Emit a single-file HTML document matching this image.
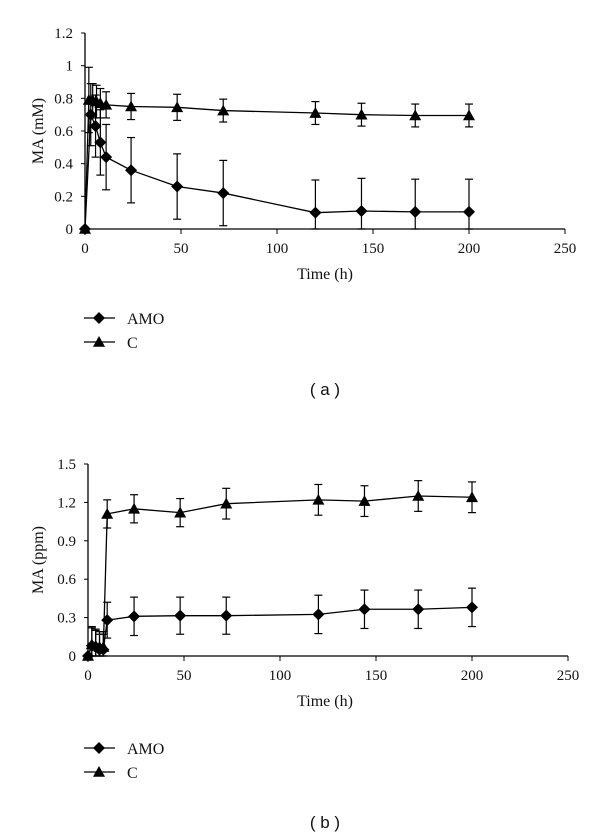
<!DOCTYPE html>
<html><head><meta charset="utf-8">
<style>
html,body{margin:0;padding:0;background:#fff;}
svg{display:block;}
text{font-family:"Liberation Serif",serif;fill:#111;}
.cap{font-family:"Liberation Sans",sans-serif;}
</style></head>
<body>
<svg id="fig" width="600" height="837" viewBox="0 0 600 837" xmlns="http://www.w3.org/2000/svg"></svg>
<script>
// Panel (a)
const timesA = [0, 3, 5.5, 8, 11, 24, 48, 72, 120, 144, 172, 200];
const amoA = [0, 0.70, 0.63, 0.53, 0.44, 0.36, 0.26, 0.22, 0.10, 0.11, 0.105, 0.105];
const amoErrA = [0, 0.19, 0.19, 0.2, 0.2, 0.2, 0.2, 0.2, 0.2, 0.2, 0.2, 0.2];
const timesCA = [0, 2, 4, 6, 8, 11, 24, 48, 72, 120, 144, 172, 200];
const cA = [0, 0.79, 0.79, 0.78, 0.77, 0.76, 0.75, 0.745, 0.725, 0.71, 0.70, 0.695, 0.695];
const cErrA = [0, 0.2, 0.1, 0.1, 0.09, 0.08, 0.08, 0.08, 0.07, 0.07, 0.07, 0.07, 0.07];
const yTicksA = ["0","0.2","0.4","0.6","0.8","1","1.2"];
const yValsA = [0,0.2,0.4,0.6,0.8,1,1.2];
// Panel (b)
const timesB = [0, 2, 4, 6, 8, 10, 24, 48, 72, 120, 144, 172, 200];
const amoB = [0, 0.08, 0.07, 0.05, 0.05, 0.28, 0.31, 0.315, 0.315, 0.325, 0.365, 0.365, 0.38];
const amoErrB = [0, 0.14, 0.13, 0.12, 0.12, 0.14, 0.15, 0.145, 0.145, 0.15, 0.15, 0.15, 0.15];
const cB = [0, 0.09, 0.08, 0.07, 0.07, 1.11, 1.15, 1.12, 1.19, 1.22, 1.21, 1.25, 1.24];
const cErrB = [0, 0.14, 0.13, 0.12, 0.12, 0.11, 0.11, 0.11, 0.12, 0.12, 0.12, 0.12, 0.12];
const yTicksB = ["0","0.3","0.6","0.9","1.2","1.5"];
const yValsB = [0,0.3,0.6,0.9,1.2,1.5];
const xTicks = [0,50,100,150,200,250];

const NS = "http://www.w3.org/2000/svg";
const svg = document.getElementById("fig");
function mk(tag, attrs, parent, txt){
  const e = document.createElementNS(NS, tag);
  for (const k in attrs) e.setAttribute(k, attrs[k]);
  if (txt !== undefined) e.textContent = txt;
  (parent||svg).appendChild(e);
  return e;
}
function diamond(g, x, y, s){
  return mk("polygon",{points:`${x},${y-s} ${x+s},${y} ${x},${y+s} ${x-s},${y}`,fill:"#000"},g);
}
function tri(g, x, y, s){
  return mk("polygon",{points:`${x},${y-s} ${x+s},${y+s*0.8} ${x-s},${y+s*0.8}`,fill:"#000"},g);
}
function panel(id, x0, y0, yTop, ymax, yVals, yLabels, ytitle, series, legY, capY, capTxt){
  const x1 = x0 + 480;
  const X = v => x0 + v/250*480;
  const Y = v => y0 - v/ymax*(y0-yTop);
  const g = mk("g",{});
  
  
  const yax = mk("line",{x1:x0,y1:yTop,x2:x0,y2:y0,stroke:"#000","stroke-width":1.3},g);
  
  
  const xax = mk("line",{x1:x0,y1:y0,x2:x1,y2:y0,stroke:"#000","stroke-width":1.3},g);
  
  
  yVals.forEach((v,i)=>{
    mk("line",{x1:x0-4,y1:Y(v),x2:x0,y2:Y(v),stroke:"#000"},g);
    const t = mk("text",{x:x0-12,y:Y(v)+5,"text-anchor":"end","font-size":15},g,yLabels[i]);
    
    
  });
  xTicks.forEach(v=>{
    mk("line",{x1:X(v),y1:y0,x2:X(v),y2:y0+5,stroke:"#000"},g);
    const t = mk("text",{x:X(v),y:y0+24,"text-anchor":"middle","font-size":15},g,String(v));
    
    
  });
  const xt = mk("text",{x:325,y:y0+50,"text-anchor":"middle","font-size":16},g,"Time (h)");
  
  
  const yc = (y0+yTop)/2;
  const yt = mk("text",{x:0,y:0,"text-anchor":"middle","font-size":16,transform:`translate(43,${yc}) rotate(-90)`},g,ytitle);
  
  
  series.forEach(s=>{
    const sg = mk("g",{},g);
    
    
    const pts = s.t.map((t,i)=>X(t)+","+Y(s.v[i])).join(" ");
    mk("polyline",{points:pts,fill:"none",stroke:"#000","stroke-width":1.3},sg);
    s.t.forEach((t,i)=>{
      const e = s.e[i];
      if (e>0){
        const xx=X(t), a=Y(s.v[i]+e), b=Y(Math.max(0,s.v[i]-e));
        mk("line",{x1:xx,y1:a,x2:xx,y2:b,stroke:"#000","stroke-width":1.2},sg);
        mk("line",{x1:xx-4,y1:a,x2:xx+4,y2:a,stroke:"#000","stroke-width":1.2},sg);
        mk("line",{x1:xx-4,y1:b,x2:xx+4,y2:b,stroke:"#000","stroke-width":1.2},sg);
      }
      const m = s.shape==="d" ? diamond(sg,X(t),Y(s.v[i]),6) : tri(sg,X(t),Y(s.v[i]),6);
      
      
    });
  });
  series.forEach((s,i)=>{
    const ly = legY + i*24;
    const lg = mk("g",{},g);
    
    
    mk("line",{x1:84,y1:ly,x2:115,y2:ly,stroke:"#000","stroke-width":1.3},lg);
    if (s.shape==="d") diamond(lg,99,ly,6); else tri(lg,99,ly,6);
    mk("text",{x:127,y:ly+6,"font-size":16},lg,s.name);
  });
  const cp = mk("text",{x:325,y:capY,"text-anchor":"middle","font-size":17,"class":"cap"},g,capTxt);
  
  
}
panel("panel-a", 85, 229, 33, 1.2, yValsA, yTicksA, "MA (mM)",
  [{name:"AMO",shape:"d",t:timesA,v:amoA,e:amoErrA},{name:"C",shape:"t",t:timesCA,v:cA,e:cErrA}],
  318, 395, "( a )");
panel("panel-b", 88, 656, 464, 1.5, yValsB, yTicksB, "MA (ppm)",
  [{name:"AMO",shape:"d",t:timesB,v:amoB,e:amoErrB},{name:"C",shape:"t",t:timesB,v:cB,e:cErrB}],
  748, 828, "( b )");
</script>
</body></html>
